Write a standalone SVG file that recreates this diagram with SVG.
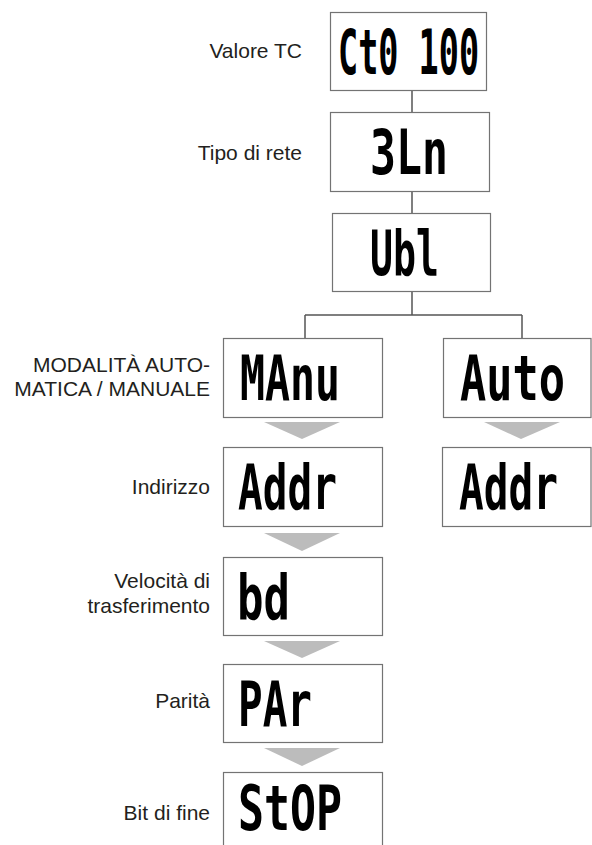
<svg xmlns="http://www.w3.org/2000/svg" width="592" height="845" viewBox="0 0 592 845">
<style>
.box{fill:#fff;stroke:#737373;stroke-width:1.2}
.lbl{font-family:"Liberation Sans",Arial,sans-serif;font-size:21px;fill:#231f20;text-anchor:end}
.lcd{font-family:"DejaVu Sans Mono",monospace;font-weight:bold;font-size:62px;fill:#000}
.con{stroke:#555;stroke-width:1.5;fill:none}
.arr{fill:#bcbcbc}
</style>
<rect width="592" height="845" fill="#fff"/>
<g id="connectors">
<path class="con" d="M412 90V112M412 191V213M412 291V315M305 315H522M305 315V338M522 315V338"/>
<polygon class="arr" points="264,422 340,422 302,439"/>
<polygon class="arr" points="484,422 560,422 521,439"/>
<polygon class="arr" points="264,533 340,533 302,551"/>
<polygon class="arr" points="264,641 340,641 302,658"/>
<polygon class="arr" points="264,748 340,748 302,766"/>
</g>
<g id="n-ct">
<rect class="box" x="330.5" y="12.5" width="156" height="78"/>
<text class="lcd" transform="translate(338 73.5) scale(0.54 1)">Ct0 100</text>
<text class="lbl" x="302" y="58">Valore TC</text>
</g>
<g id="n-3ln">
<rect class="box" x="330.5" y="112.5" width="159" height="79"/>
<text class="lcd" transform="translate(370 173.5) scale(0.696 1)">3Ln</text>
<text class="lbl" x="302" y="160">Tipo di rete</text>
</g>
<g id="n-ubl">
<rect class="box" x="332.5" y="213.5" width="158" height="78"/>
<text class="lcd" transform="translate(370 274.5) scale(0.616 1)">Ubl</text>
</g>
<g id="n-manu">
<rect class="box" x="223.5" y="338.5" width="159" height="79"/>
<text class="lcd" transform="translate(240 399.5) scale(0.67 1)">MAnu</text>
<text class="lbl" x="210" y="372">MODALITÀ AUTO-</text>
<text class="lbl" x="210" y="396">MATICA / MANUALE</text>
</g>
<g id="n-auto">
<rect class="box" x="443.5" y="338.5" width="147.5" height="79"/>
<text class="lcd" transform="translate(460 399.5) scale(0.703 1)">Auto</text>
</g>
<g id="n-addr">
<rect class="box" x="223.5" y="447.5" width="159" height="79"/>
<text class="lcd" transform="translate(238 508.5) scale(0.663 1)">Addr</text>
<text class="lbl" x="210" y="494">Indirizzo</text>
</g>
<g id="n-addr2">
<rect class="box" x="442.5" y="447.5" width="148.5" height="79"/>
<text class="lcd" transform="translate(459 508.5) scale(0.663 1)">Addr</text>
</g>
<g id="n-bd">
<rect class="box" x="223.5" y="557.5" width="159" height="78"/>
<text class="lcd" transform="translate(237 618.5) scale(0.71 1)">bd</text>
<text class="lbl" x="210" y="588">Velocità di</text>
<text class="lbl" x="210" y="613">trasferimento</text>
</g>
<g id="n-par">
<rect class="box" x="223.5" y="664.5" width="159" height="78"/>
<text class="lcd" transform="translate(238 725.5) scale(0.66 1)">PAr</text>
<text class="lbl" x="210" y="708">Parità</text>
</g>
<g id="n-stop">
<rect class="box" x="223.5" y="772.5" width="159" height="80"/>
<text class="lcd" transform="translate(238 830) scale(0.697 1)">StOP</text>
<text class="lbl" x="210" y="820">Bit di fine</text>
</g>
</svg>
